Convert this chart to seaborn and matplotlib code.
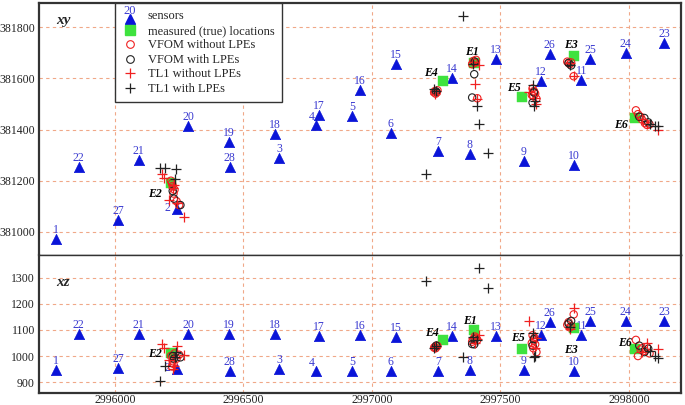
import matplotlib
matplotlib.use("Agg")
import matplotlib.pyplot as plt
from matplotlib.lines import Line2D
from matplotlib.text import Text
import seaborn as sns
import pandas as pd

# ---------------- data ----------------
sensor_ids = [1, 22, 27, 21, 20, 2, 19, 28, 18, 3, 4, 17, 5, 16, 6, 15, 7, 14, 8, 13,
              9, 12, 26, 10, 11, 25, 24, 23]
sensor_x = [2995770, 2995859, 2996014, 2996093, 2996285, 2996240, 2996444, 2996447,
            2996623, 2996640, 2996781, 2996794, 2996922, 2996952, 2997073, 2997093,
            2997259, 2997312, 2997380, 2997482, 2997590, 2997657, 2997692, 2997785,
            2997814, 2997850, 2997987, 2998138]
sensor_y = [380973, 381252, 381047, 381282, 381413, 381090, 381350, 381255,
            381382, 381290, 381417, 381456, 381453, 381554, 381387, 381654,
            381317, 381602, 381304, 381676, 381277, 381590, 381693, 381262,
            381593, 381676, 381697, 381736]
sensor_z = [946, 1083, 954, 1083, 1083, 952, 1083, 941,
            1083, 949, 941, 1076, 944, 1080, 942, 1072,
            942, 1078, 947, 1078, 946, 1080, 1130, 941,
            1081, 1136, 1136, 1135]

event_names = ["E1", "E2", "E3", "E4", "E5", "E6"]
true_x = [2997397, 2996218, 2997785, 2997277, 2997583, 2998022]
true_y = [381660, 381192, 381686, 381591, 381526, 381444]
true_z = [1101, 1010, 1108, 1060, 1028, 1027]

# VFOM without LPEs (red circles)
vfom_nolpe_x = [2996218, 2996225, 2996232, 2996240, 2996250, 2996228, 2996222,
                2997245, 2997252, 2997248, 2997255, 2997242,
                2997395, 2997400, 2997390, 2997405, 2997410,
                2997625, 2997630, 2997635, 2997628, 2997640, 2997632, 2997622,
                2997760, 2997770, 2997765, 2997775, 2997785,
                2998027, 2998035, 2998050, 2998062, 2998070, 2998080, 2998045]
vfom_nolpe_y = [381200, 381180, 381165, 381120, 381105, 381150, 381190,
                381550, 381545, 381540, 381553, 381545,
                381668, 381660, 381655, 381672, 381522,
                381560, 381550, 381540, 381530, 381520, 381545, 381535,
                381665, 381655, 381660, 381662, 381608,
                381475, 381460, 381440, 381425, 381418, 381420, 381450]
vfom_nolpe_z = [1000, 980, 1010, 990, 1005, 970, 960,
                1035, 1040, 1030, 1038, 1032,
                1065, 1075, 1055, 1070, 1062,
                1080, 1060, 1045, 1030, 1015, 1070, 1050,
                1120, 1110, 1130, 1115, 1160,
                1062, 1000, 1030, 1020, 1035, 1010, 1025]

# VFOM with LPEs (black circles)
vfom_lpe_x = [2996225, 2996255, 2996230, 2997398, 2997390, 2997400, 2997250,
              2997630, 2997625, 2997765, 2997775, 2998040, 2998075, 2998060]
vfom_lpe_y = [381160, 381105, 381130, 381616, 381525, 381665, 381548,
              381545, 381505, 381660, 381650, 381450, 381428, 381445]
vfom_lpe_z = [1000, 995, 990, 1045, 1046, 1065, 1040,
              1065, 1040, 1125, 1135, 1040, 1028, 1015]

# TL1 without LPEs (red plus)
tl1_nolpe_x = [2996185, 2996190, 2996210, 2996240, 2996270, 2996230, 2996225,
               2997400, 2997415, 2997395, 2997410, 2997245,
               2997640, 2997613, 2997635, 2997785, 2997770,
               2998112, 2998070, 2998050]
tl1_nolpe_y = [381225, 381210, 381125, 381115, 381060, 381185, 381170,
               381576, 381650, 381665, 381520, 381540,
               381500, 381545, 381525, 381608, 381660,
               381400, 381420, 381440]
tl1_nolpe_z = [1045, 1030, 985, 1040, 1005, 960, 950,
               1050, 1080, 1070, 1065, 1035,
               1070, 1133, 1030, 1185, 1105,
               1026, 1050, 1015]

# TL1 with LPEs (black plus)
tl1_lpe_x = [2996176, 2996194, 2996237, 2996233,
             2997356, 2997418, 2997450, 2997209, 2997410, 2997395,
             2997250, 2997240, 2997630, 2997625, 2997635, 2997770,
             2998112, 2998100, 2998080]
tl1_lpe_y = [381250, 381250, 381245, 381205,
             381842, 381420, 381308, 381227, 381491, 381655,
             381550, 381560, 381490, 381575, 381510, 381650,
             381412, 381415, 381420]
tl1_lpe_z = [905, 960, 1015, 995,
             997, 1337, 1260, 1287, 1060, 1075,
             1038, 1030, 995, 1090, 1000, 1110,
             991, 1000, 1020]

x_ticks = [2996000, 2996500, 2997000, 2997500, 2998000]
y_ticks = [381000, 381200, 381400, 381600, 381800]
z_ticks = [900, 1000, 1100, 1200, 1300]

# ---------------- styling ----------------
sns.set_theme(style="white")
plt.rcParams["font.family"] = ["Liberation Serif", "DejaVu Serif"]

BLUE = "#0a14d8"
LBLUE = "#3a3ad0"
GREEN = "#3ee23e"
RED = "#f02020"
BLACK = "#222222"
GRID = "#f0a888"
FRAME = "#333333"
FS = 8.5
LFS = 9

fig = plt.figure(figsize=(6.85, 4.05), dpi=100)
gs = fig.add_gridspec(2, 1, height_ratios=[252, 138], hspace=0,
                      left=0.057, right=0.994, top=0.9926, bottom=0.0296)
ax1 = fig.add_subplot(gs[0])
ax2 = fig.add_subplot(gs[1], sharex=ax1)

sensors = pd.DataFrame({"id": sensor_ids, "x": sensor_x, "y": sensor_y, "z": sensor_z})
true_df = pd.DataFrame({"ev": event_names, "x": true_x, "y": true_y, "z": true_z})
s_vn = pd.DataFrame({"x": vfom_nolpe_x, "y": vfom_nolpe_y, "z": vfom_nolpe_z})
s_vl = pd.DataFrame({"x": vfom_lpe_x, "y": vfom_lpe_y, "z": vfom_lpe_z})
s_tn = pd.DataFrame({"x": tl1_nolpe_x, "y": tl1_nolpe_y, "z": tl1_nolpe_z})
s_tl = pd.DataFrame({"x": tl1_lpe_x, "y": tl1_lpe_y, "z": tl1_lpe_z})

# label offsets (pixels) relative to true location, per panel
ev_off_xy = {"E1": (-2, 11), "E2": (-16, -11), "E3": (-3, 11),
             "E4": (-12, 8), "E5": (-8, 9), "E6": (-14, -7)}
ev_off_xz = {"E1": (-4, 9), "E2": (-16, -1), "E3": (-3, -22),
             "E4": (-11, 7), "E5": (-4, 11), "E6": (-10, 6)}
sensor_off = {2: (-9, 1), 4: (-4, 8)}

for ax, col, ev_off in [(ax1, "y", ev_off_xy), (ax2, "z", ev_off_xz)]:
    sns.scatterplot(data=sensors, x="x", y=col, ax=ax, marker="^", s=55,
                    color=BLUE, edgecolor=BLUE, linewidth=0.5, zorder=3, legend=False)
    for _, r in sensors.iterrows():
        dx, dy = sensor_off.get(int(r["id"]), (0, 9))
        ax.annotate(str(int(r["id"])), (r["x"], r[col]), xytext=(dx, dy),
                    textcoords="offset pixels", ha="center", va="center",
                    fontsize=FS, color=LBLUE, zorder=3)
    sns.scatterplot(data=true_df, x="x", y=col, ax=ax, marker="s", s=45,
                    color=GREEN, edgecolor=GREEN, linewidth=0.3, zorder=4, legend=False)
    for _, r in true_df.iterrows():
        dx, dy = ev_off[r["ev"]]
        ax.annotate(r["ev"], (r["x"], r[col]), xytext=(dx, dy),
                    textcoords="offset pixels", ha="center", va="center",
                    fontsize=FS, color="black", fontweight="bold", style="italic",
                    zorder=6)
    sns.scatterplot(data=s_vn, x="x", y=col, ax=ax, marker="o", s=28,
                    facecolors="none", edgecolors=RED, linewidth=0.8, zorder=5, legend=False)
    sns.scatterplot(data=s_vl, x="x", y=col, ax=ax, marker="o", s=28,
                    facecolors="none", edgecolors=BLACK, linewidth=0.8, zorder=5, legend=False)
    sns.scatterplot(data=s_tn, x="x", y=col, ax=ax, marker="+", s=45,
                    color=RED, linewidth=0.9, zorder=5, legend=False)
    sns.scatterplot(data=s_tl, x="x", y=col, ax=ax, marker="+", s=45,
                    color=BLACK, linewidth=0.9, zorder=5, legend=False)

    ax.set_xlabel("")
    ax.set_ylabel("")
    ax.grid(True, color=GRID, linestyle=(0, (3, 3)), linewidth=0.8)
    ax.set_axisbelow(True)
    for sp in ax.spines.values():
        sp.set_color(FRAME)
        sp.set_linewidth(1.6)
    ax.tick_params(axis="both", length=0, labelsize=FS, colors="#222222", pad=3)

ax1.set_xlim(2995705, 2998202)
ax1.set_xticks(x_ticks)
ax1.set_ylim(380910, 381894)
ax1.set_yticks(y_ticks)
ax2.set_ylim(858, 1388)
ax2.set_yticks(z_ticks)
ax2.set_xticks(x_ticks)
ax2.set_xticklabels([str(v) for v in x_ticks])
ax2.tick_params(axis="x", pad=1)
plt.setp(ax1.get_xticklabels(), visible=False)
ax1.spines["bottom"].set_linewidth(1.0)
ax2.spines["top"].set_linewidth(1.0)

ax1.text(0.027, 0.93, "xy", transform=ax1.transAxes, fontsize=11,
         fontweight="bold", style="italic", ha="left", va="center")
ax2.text(0.027, 0.8, "xz", transform=ax2.transAxes, fontsize=11,
         fontweight="bold", style="italic", ha="left", va="center")


# ---------------- legend ----------------
class SensorHandler:
    def legend_artist(self, legend, orig_handle, fontsize, handlebox):
        x0, y0 = handlebox.xdescent, handlebox.ydescent
        w, h = handlebox.width, handlebox.height
        ln = Line2D([x0 + w / 2], [y0 + h / 2 - 3.0], marker="^", color=BLUE,
                    markersize=7.5, linestyle="none")
        handlebox.add_artist(ln)
        t = Text(x0 + w / 2, y0 + h / 2 + 3.0, "20", color=LBLUE, ha="center",
                 va="center", fontsize=LFS, fontfamily="Liberation Serif")
        handlebox.add_artist(t)
        return ln


h_sens = Line2D([], [], marker="^", color=BLUE, linestyle="none")
h_true = Line2D([], [], marker="s", color=GREEN, markersize=6.5, linestyle="none")
h_vn = Line2D([], [], marker="o", markerfacecolor="none", markeredgecolor=RED,
              markersize=5.5, linestyle="none", markeredgewidth=0.8)
h_vl = Line2D([], [], marker="o", markerfacecolor="none", markeredgecolor=BLACK,
              markersize=5.5, linestyle="none", markeredgewidth=0.8)
h_tn = Line2D([], [], marker="+", color=RED, markersize=7, linestyle="none",
              markeredgewidth=0.9)
h_tl = Line2D([], [], marker="+", color=BLACK, markersize=7, linestyle="none",
              markeredgewidth=0.9)
leg = ax1.legend([h_sens, h_true, h_vn, h_vl, h_tn, h_tl],
                 ["sensors", "measured (true) locations", "VFOM without LPEs",
                  "VFOM with LPEs", "TL1 without LPEs", "TL1 with LPEs"],
                 handler_map={h_sens: SensorHandler()},
                 loc="upper left", bbox_to_anchor=(0.119, 1.0), fontsize=LFS,
                 frameon=True, fancybox=False, framealpha=1, edgecolor=FRAME,
                 borderpad=0.6, labelspacing=0.2, handlelength=1.1,
                 handletextpad=0.9, borderaxespad=0.0)
leg.get_frame().set_linewidth(1.0)

fig.savefig("out.png", dpi=100)
